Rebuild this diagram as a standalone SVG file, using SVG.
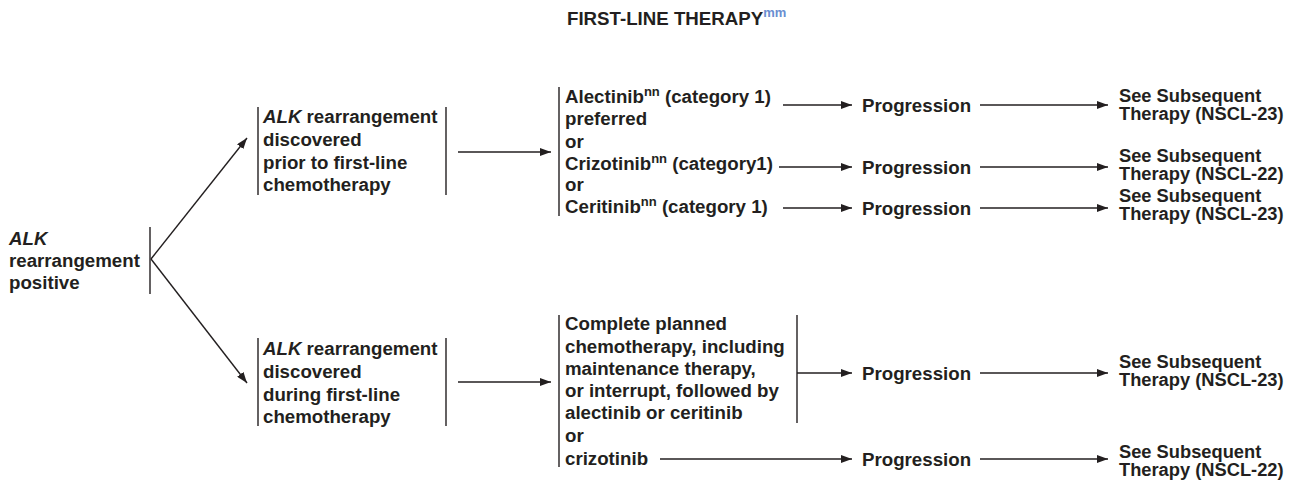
<svg xmlns="http://www.w3.org/2000/svg" width="1302" height="481" viewBox="0 0 1302 481">
<style>
  text { font-family: "Liberation Sans", Arial, sans-serif; font-weight: bold; font-size: 18.7px; fill: #231f20; }
  .see { font-size: 18.3px; }
  .it { font-style: italic; }
  .sup { font-size: 13px; }
  .blue { fill: #6a8ed1; }
  .bar { stroke: #231f20; stroke-width: 1.4; fill: none; }
  .conn line { stroke: #231f20; stroke-width: 1.4; fill: none; marker-end: url(#ah); }
</style>
<defs>
  <marker id="ah" markerUnits="userSpaceOnUse" markerWidth="11" markerHeight="8" refX="11" refY="4" orient="auto">
    <path d="M0,0 L11,4 L0,8 z" fill="#231f20"/>
  </marker>
</defs>
<rect width="1302" height="481" fill="#ffffff"/>

<g id="title">
  <text x="567" y="25">FIRST-LINE THERAPY<tspan class="sup blue" dy="-8">mm</tspan></text>
</g>

<g id="n-alk">
  <text x="9" y="245" class="it">ALK</text>
  <text x="9" y="267">rearrangement</text>
  <text x="9" y="289">positive</text>
  <line class="bar" x1="150" y1="227" x2="150" y2="294"/>
</g>

<g id="n-prior">
  <line class="bar" x1="258" y1="107" x2="258" y2="195"/>
  <line class="bar" x1="446" y1="107" x2="446" y2="195"/>
  <text x="263" y="123"><tspan class="it">ALK</tspan> rearrangement</text>
  <text x="263" y="146">discovered</text>
  <text x="263" y="168.5">prior to first-line</text>
  <text x="263" y="191">chemotherapy</text>
</g>

<g id="n-during">
  <line class="bar" x1="258" y1="338" x2="258" y2="426"/>
  <line class="bar" x1="446" y1="338" x2="446" y2="426"/>
  <text x="263" y="355"><tspan class="it">ALK</tspan> rearrangement</text>
  <text x="263" y="378">discovered</text>
  <text x="263" y="400.5">during first-line</text>
  <text x="263" y="423">chemotherapy</text>
</g>

<g id="n-targeted">
  <line class="bar" x1="559" y1="87" x2="559" y2="216"/>
  <text x="565" y="103">Alectinib<tspan class="sup" dy="-7">nn</tspan><tspan dy="7"> (category 1)</tspan></text>
  <text x="565" y="125">preferred</text>
  <text x="565" y="148">or</text>
  <text x="565" y="170">Crizotinib<tspan class="sup" dy="-7">nn</tspan><tspan dy="7"> (category1)</tspan></text>
  <text x="565" y="191">or</text>
  <text x="565" y="213">Ceritinib<tspan class="sup" dy="-7">nn</tspan><tspan dy="7"> (category 1)</tspan></text>
</g>

<g id="n-complete">
  <line class="bar" x1="559" y1="315" x2="559" y2="467"/>
  <line class="bar" x1="797" y1="315" x2="797" y2="423"/>
  <text x="565" y="330">Complete planned</text>
  <text x="565" y="353">chemotherapy, including</text>
  <text x="565" y="375">maintenance therapy,</text>
  <text x="565" y="397">or interrupt, followed by</text>
  <text x="565" y="419">alectinib or ceritinib</text>
  <text x="565" y="442">or</text>
  <text x="565" y="465">crizotinib</text>
</g>

<g id="n-prog1"><text x="862" y="111.5">Progression</text></g>
<g id="n-prog2"><text x="862" y="173.5">Progression</text></g>
<g id="n-prog3"><text x="862" y="214.5">Progression</text></g>
<g id="n-prog4"><text x="862" y="380">Progression</text></g>
<g id="n-prog5"><text x="862" y="466">Progression</text></g>

<g id="n-see1"><text class="see" x="1119" y="102">See Subsequent</text><text class="see" x="1119" y="119.5">Therapy (NSCL-23)</text></g>
<g id="n-see2"><text class="see" x="1119" y="162">See Subsequent</text><text class="see" x="1119" y="179.5">Therapy (NSCL-22)</text></g>
<g id="n-see3"><text class="see" x="1119" y="202">See Subsequent</text><text class="see" x="1119" y="219.5">Therapy (NSCL-23)</text></g>
<g id="n-see4"><text class="see" x="1119" y="368">See Subsequent</text><text class="see" x="1119" y="385.5">Therapy (NSCL-23)</text></g>
<g id="n-see5"><text class="see" x="1119" y="458">See Subsequent</text><text class="see" x="1119" y="475.5">Therapy (NSCL-22)</text></g>

<g id="connectors" class="conn">
  <line x1="151" y1="259" x2="247" y2="138"/>
  <line x1="151" y1="259" x2="247" y2="383"/>
  <line x1="458" y1="152" x2="551" y2="152"/>
  <line x1="458" y1="382" x2="551" y2="382"/>
  <line x1="783" y1="105" x2="852" y2="105"/>
  <line x1="779" y1="167" x2="852" y2="167"/>
  <line x1="783" y1="208" x2="852" y2="208"/>
  <line x1="797" y1="373" x2="852" y2="373"/>
  <line x1="660" y1="459" x2="852" y2="459"/>
  <line x1="980" y1="105" x2="1108" y2="105"/>
  <line x1="980" y1="167" x2="1108" y2="167"/>
  <line x1="980" y1="208" x2="1108" y2="208"/>
  <line x1="980" y1="373" x2="1108" y2="373"/>
  <line x1="980" y1="459" x2="1108" y2="459"/>
</g>
</svg>
